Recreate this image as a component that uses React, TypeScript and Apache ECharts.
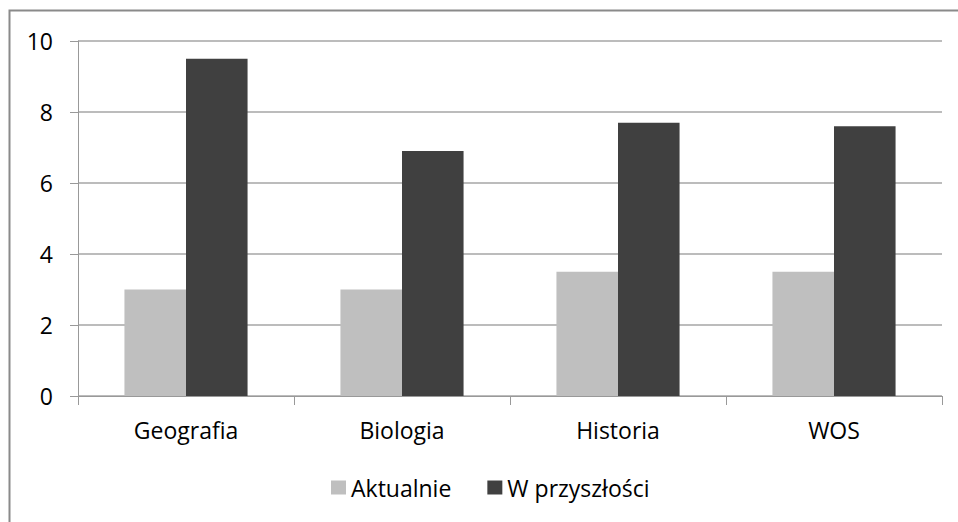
import React, { useEffect, useRef } from "react";
import * as echarts from "echarts";

const categories = ["Geografia", "Biologia", "Historia", "WOS"];
const aktualnie = [3, 3, 3.5, 3.5];
const wPrzyszlosci = [9.5, 6.9, 7.7, 7.6];
const seriesNames = ["Aktualnie", "W przyszłości"];

const FONT = "'Open Sans', 'Noto Sans', sans-serif";
const FS = 23;

export default function App() {
  const ref = useRef<HTMLDivElement>(null);
  useEffect(() => {
    document.body.style.margin = "0";
    const chart = echarts.init(ref.current!, null, { renderer: "svg" });
    chart.setOption({
      animation: false,
      backgroundColor: "#ffffff",
      textStyle: { fontFamily: FONT },
      graphic: [
        {
          type: "rect",
          shape: { x: 9.5, y: 10.5, width: 1000, height: 600 },
          style: { fill: "none", stroke: "#8a8a8a", lineWidth: 2 },
          silent: true,
          z: 0,
        },
      ],
      grid: { left: 78, right: 16, top: 41, bottom: 126, containLabel: false },
      legend: {
        data: seriesNames,
        left: 326,
        top: 471,
        icon: "rect",
        itemWidth: 15,
        itemHeight: 14,
        itemGap: 36,
        textStyle: { fontSize: FS, color: "#000", fontFamily: FONT },
      },
      xAxis: {
        type: "category",
        data: categories,
        axisLine: { show: true, lineStyle: { color: "#999999", width: 1 } },
        axisTick: { show: true, length: 9, lineStyle: { color: "#999999" } },
        axisLabel: { fontSize: FS, color: "#000", margin: 22, fontFamily: FONT },
      },
      yAxis: {
        type: "value",
        min: 0,
        max: 10,
        interval: 2,
        axisLine: { show: true, lineStyle: { color: "#999999", width: 1 } },
        axisTick: { show: true, length: 8, lineStyle: { color: "#999999" } },
        axisLabel: { fontSize: FS, color: "#000", margin: 25, fontFamily: FONT },
        splitLine: { show: true, lineStyle: { color: "#a6a6a6", width: 1.5 } },
      },
      series: [
        {
          name: seriesNames[0],
          type: "bar",
          data: aktualnie,
          itemStyle: { color: "#bfbfbf" },
          barGap: "0%",
          barCategoryGap: "43%",
        },
        {
          name: seriesNames[1],
          type: "bar",
          data: wPrzyszlosci,
          itemStyle: { color: "#404040" },
          barGap: "0%",
          barCategoryGap: "43%",
        },
      ],
    });
    return () => chart.dispose();
  }, []);
  return <div ref={ref} style={{ width: 958, height: 522 }} />;
}
